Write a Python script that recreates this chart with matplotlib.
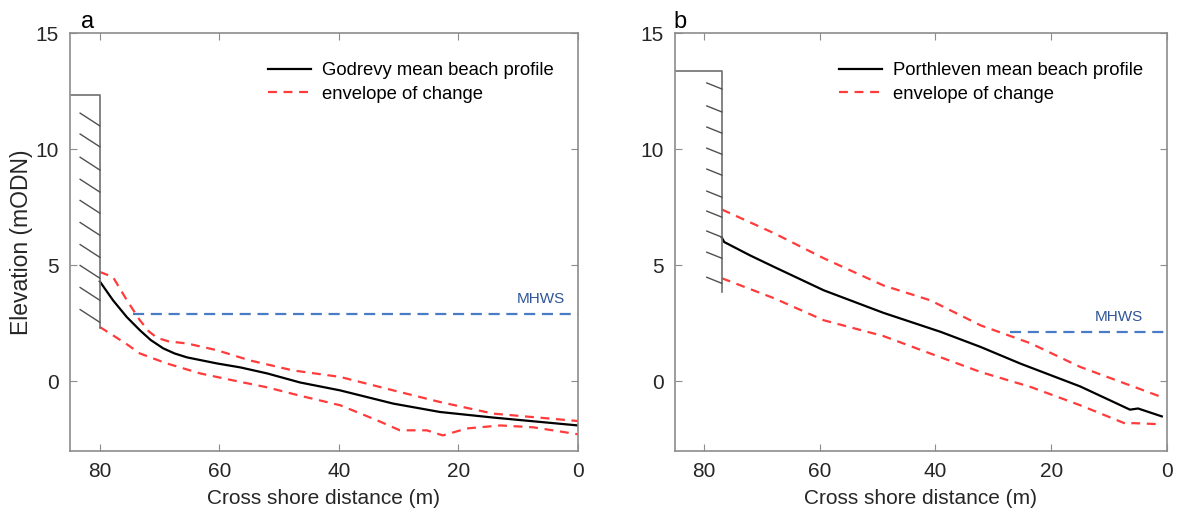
import matplotlib
matplotlib.use("Agg")
import matplotlib.pyplot as plt

plt.rcParams['font.family'] = ['Liberation Sans', 'DejaVu Sans']

# Godrevy (panel a)
god_x = [80, 77.8, 75.5, 73.3, 71.5, 69.4, 67.5, 65.4, 60.4, 56.5, 52, 46.5, 39.8, 30.9, 23.1, 14.2, 0]
god_mean = [4.3, 3.49, 2.77, 2.2, 1.78, 1.42, 1.2, 1.03, 0.77, 0.6, 0.34, -0.05, -0.39, -0.96, -1.32, -1.56, -1.9]
god_up_x = [80, 77.8, 75.5, 73.3, 71.8, 70.4, 68.5, 65.4, 60.4, 54.9, 47.7, 39.8, 30.9, 23.1, 14.2, 0]
god_up = [4.71, 4.49, 3.5, 2.63, 2.15, 1.87, 1.72, 1.63, 1.34, 0.9, 0.47, 0.19, -0.39, -0.89, -1.39, -1.71]
god_lo_x = [80, 77.8, 75.5, 73.3, 68.8, 63.2, 57.7, 52, 46.5, 39.8, 33.6, 29.8, 25.3, 22.6, 18.6, 13, 7.5, 0]
god_lo = [2.34, 1.98, 1.6, 1.2, 0.77, 0.34, 0.04, -0.26, -0.62, -1.03, -1.68, -2.11, -2.11, -2.33, -2.03, -1.9, -1.98, -2.28]
god_mhws = 2.89
god_mhws_start = 74.5
god_wall_x = 80
god_wall_top = 12.35
god_wall_bottom = 2.28
god_hatch = [11.0, 10.1, 9.1, 8.15, 7.24, 6.29, 5.34, 4.44, 3.49, 2.54]

# Porthleven (panel b)
por_x = [76.9, 76.5, 72.0, 67.9, 59.3, 49.0, 39.1, 32.2, 25.3, 15, 6.4, 5, 0.9]
por_mean = [6.19, 6.0, 5.42, 4.93, 3.92, 2.95, 2.13, 1.48, 0.76, -0.22, -1.22, -1.17, -1.51]
por_up_x = [76.9, 67.9, 59.3, 49.0, 40.9, 32.2, 23.6, 15, 0.9]
por_up = [7.4, 6.38, 5.3, 4.13, 3.49, 2.41, 1.64, 0.62, -0.68]
por_lo_x = [76.9, 67.9, 59.3, 49.0, 40.9, 32.2, 23.6, 15, 6.9, 5.9, 0.9]
por_lo = [4.44, 3.58, 2.63, 1.95, 1.2, 0.4, -0.24, -1.03, -1.85, -1.8, -1.85]
por_mhws = 2.12
por_mhws_start = 27.1
por_wall_x = 76.9
por_wall_top = 13.37
por_wall_bottom = 3.85
por_hatch = [12.59, 11.6, 10.69, 9.78, 8.88, 7.93, 7.07, 6.21, 5.30, 4.22]

xticks = [80, 60, 40, 20, 0]
yticks = [0, 5, 10, 15]

spine_col = '#8c8c8c'
text_col = '#262626'


def draw_panel(ax, name, x, mean, ux, up, lx, lo, mhws, mhws_start, mhws_text_x,
               wall_x, wall_top, wall_bottom, hatch, hdx, hdy):
    ax.plot(x, mean, color='black', lw=1.6, label=name + ' mean beach profile')
    ax.plot(ux, up, color='#ff3b3b', lw=1.6, ls=(0, (4, 3)), label='envelope of change')
    ax.plot(lx, lo, color='#ff3b3b', lw=1.6, ls=(0, (4, 3)))
    ax.plot([mhws_start, 0], [mhws, mhws], color='#4a7cc6', lw=1.6, ls=(0, (5, 3)))
    ax.text(mhws_text_x, mhws + 0.35, 'MHWS', color='#2f5597', fontsize=11, ha='right', va='bottom')
    # sea wall
    ax.plot([85, wall_x, wall_x], [wall_top, wall_top, wall_bottom], color='#707070', lw=1.2)
    for h in hatch:
        ax.plot([wall_x + hdx, wall_x], [h + hdy, h], color='#505050', lw=1.0)
    ax.set_xlim(85, 0)
    ax.set_ylim(-3, 15)
    ax.set_xticks(xticks)
    ax.set_yticks(yticks)
    ax.tick_params(direction='in', top=True, right=True, length=5, color=spine_col,
                   labelsize=15, labelcolor=text_col, pad=8)
    for s in ax.spines.values():
        s.set_color(spine_col)
        s.set_linewidth(1.2)
    ax.set_xlabel('Cross shore distance (m)', fontsize=15, color=text_col, labelpad=6)
    ax.legend(loc='upper right', frameon=False, fontsize=13.3, handlelength=2.3,
              handletextpad=0.6, bbox_to_anchor=(0.985, 0.97), labelspacing=0.35)


fig = plt.figure(figsize=(11.8, 5.16), dpi=100)
ax1 = fig.add_axes([0.0593, 0.126, 0.4305, 0.810])
ax2 = fig.add_axes([0.572, 0.126, 0.417, 0.810])

draw_panel(ax1, 'Godrevy', god_x, god_mean, god_up_x, god_up, god_lo_x, god_lo,
           god_mhws, god_mhws_start, 2.2, god_wall_x, god_wall_top, god_wall_bottom,
           god_hatch, 3.3, 0.55)
draw_panel(ax2, 'Porthleven', por_x, por_mean, por_up_x, por_up, por_lo_x, por_lo,
           por_mhws, por_mhws_start, 4.1, por_wall_x, por_wall_top, por_wall_bottom,
           por_hatch, 2.6, 0.26)
ax1.set_ylabel('Elevation (mODN)', fontsize=16.5, color=text_col, labelpad=2)

fig.text(0.069, 0.945, 'a', fontsize=17, color='black')
fig.text(0.571, 0.945, 'b', fontsize=17, color='black')

fig.savefig('out.png', dpi=100)
